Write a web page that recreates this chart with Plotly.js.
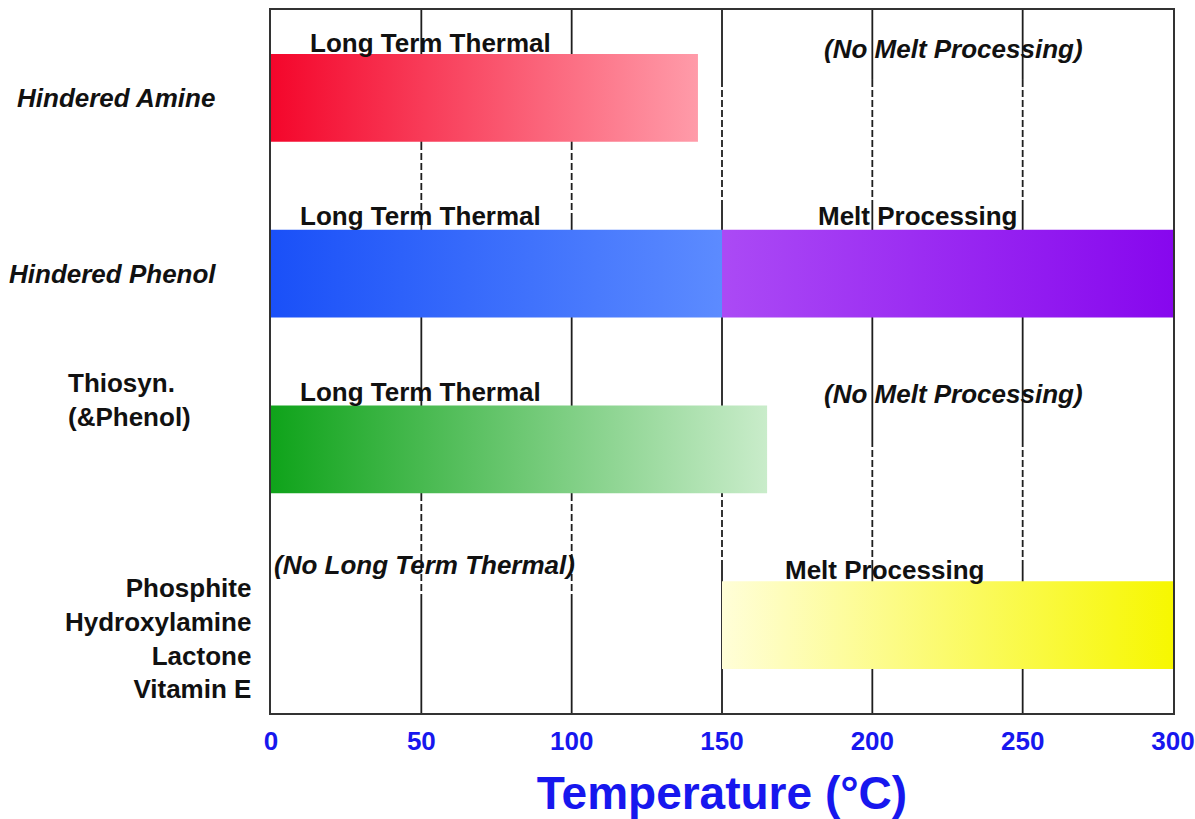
<!DOCTYPE html>
<html>
<head>
<meta charset="utf-8">
<script src="https://cdn.plot.ly/plotly-3.0.1.min.js"></script>
<style>
  html, body { margin: 0; padding: 0; background: #ffffff; }
  #chart { width: 1195px; height: 819px; }
</style>
</head>
<body>
<div id="chart"></div>
<script>
// Stabilizer families, one row each (top to bottom)
const families = ['Hindered Amine', 'Hindered Phenol', 'Thiosyn. (&Phenol)', 'Phosphite / Hydroxylamine / Lactone / Vitamin E'];

// Long term thermal range, °C (null = not applicable)
const thermalStart = [0, 0, 0, null];
const thermalEnd   = [142, 150, 165, null];

// Melt processing range, °C (null = not applicable)
const meltStart = [null, 150, null, 150];
const meltEnd   = [null, 300, null, 300];

// Temperature axis ticks
const tempTicks = [0, 50, 100, 150, 200, 250, 300];

// ---- styling ----
const BAR_HALF = 0.25;
const thermalGradient = [
  ['#f4062b', '#ff9ba9'],
  ['#1a50f8', '#5c8bff'],
  ['#0fa31a', '#c9ecca'],
  null
];
const meltGradient = [
  null,
  ['#ab4af5', '#8707ee'],
  null,
  ['#fffed8', '#f7f700']
];

const BLUE = '#1717ee';
const LABEL_FONT = 'Liberation Sans, Arial, sans-serif';

function rangeBar(i, x0, x1, colors) {
  return {
    type: 'scatter',
    mode: 'none',
    x: [x0, x1, x1, x0, x0],
    y: [i - BAR_HALF, i - BAR_HALF, i + BAR_HALF, i + BAR_HALF, i - BAR_HALF],
    fill: 'toself',
    fillgradient: {
      type: 'horizontal',
      colorscale: [[0, colors[0]], [1, colors[1]]]
    },
    hoverinfo: 'skip',
    showlegend: false
  };
}

const traces = [];
families.forEach((name, i) => {
  if (thermalEnd[i] !== null) traces.push(rangeBar(i, thermalStart[i], thermalEnd[i], thermalGradient[i]));
  if (meltEnd[i] !== null) traces.push(rangeBar(i, meltStart[i], meltEnd[i], meltGradient[i]));
});

// Vertical guide lines: alternating solid / dashed stretches
const gridGroups = [
  { ticks: [50, 100], segs: [[-0.5, 0.257, 'solid'], [0.257, 0.666, 'dash'], [0.666, 2.254, 'solid'], [2.254, 2.857, 'dash'], [2.857, 3.5, 'solid']] },
  { ticks: [150, 200, 250], segs: [[-0.5, -0.102, 'solid'], [-0.102, 0.581, 'dash'], [0.581, 1.947, 'solid'], [1.947, 2.658, 'dash'], [2.658, 3.5, 'solid']] }
];
const shapes = [];
gridGroups.forEach(g => {
  g.ticks.forEach(t => {
    g.segs.forEach(s => {
      shapes.push({
        type: 'line', layer: 'below', xref: 'x', yref: 'y',
        x0: t, x1: t, y0: s[0], y1: s[1],
        line: { color: '#1e1e1e', width: 1.8, dash: s[2] === 'dash' ? '7px,3px' : 'solid' }
      });
    });
  });
});

// Row names on the left
const rowLabels = [
  { text: '<i>Hindered Amine</i>', y: 0, xshift: -54, xanchor: 'right', align: 'right' },
  { text: '<i>Hindered Phenol</i>', y: 1, xshift: -53, xanchor: 'right', align: 'right' },
  { text: 'Thiosyn.<br>(&Phenol)', y: 1.72, xshift: -205, xanchor: 'left', align: 'left' },
  { text: 'Phosphite<br>Hydroxylamine<br>Lactone<br>Vitamin E', y: 3.076, xshift: -18, xanchor: 'right', align: 'right' }
];

// Range captions placed above each row
const captions = [
  { text: 'Long Term Thermal', x: 53, y: -0.312 },
  { text: '<i>(No Melt Processing)</i>', x: 227, y: -0.278 },
  { text: 'Long Term Thermal', x: 49.6, y: 0.672 },
  { text: 'Melt Processing', x: 215, y: 0.672 },
  { text: 'Long Term Thermal', x: 49.6, y: 1.673 },
  { text: '<i>(No Melt Processing)</i>', x: 227, y: 1.685 },
  { text: '<i>(No Long Term Thermal)</i>', x: 51, y: 2.658 },
  { text: 'Melt Processing', x: 204, y: 2.686 }
];

const annotations = [];
rowLabels.forEach(r => annotations.push({
  xref: 'paper', yref: 'y', x: 0, y: r.y, xshift: r.xshift,
  xanchor: r.xanchor, yanchor: 'middle', align: r.align,
  text: r.text, showarrow: false,
  font: { family: LABEL_FONT, size: 26, color: '#111111', weight: 'bold' }
}));
captions.forEach(c => annotations.push({
  xref: 'x', yref: 'y', x: c.x, y: c.y,
  xanchor: 'center', yanchor: 'middle',
  text: c.text, showarrow: false,
  font: { family: LABEL_FONT, size: 26, color: '#111111', weight: 'bold' }
}));

const layout = {
  width: 1195,
  height: 819,
  margin: { l: 271, r: 22, t: 10, b: 106 },
  paper_bgcolor: '#ffffff',
  plot_bgcolor: '#ffffff',
  showlegend: false,
  xaxis: {
    range: [0, 300],
    tickvals: tempTicks,
    ticktext: tempTicks.map(String),
    ticks: '',
    showgrid: false,
    zeroline: false,
    showline: true,
    mirror: true,
    linecolor: '#333333',
    linewidth: 2,
    tickfont: { family: LABEL_FONT, size: 26, color: BLUE, weight: 'bold' },
    ticklabelstandoff: 4,
    ticklabeloverflow: 'allow',
    title: {
      text: 'Temperature (°C)',
      font: { family: LABEL_FONT, size: 46, color: BLUE, weight: 'bold' },
      standoff: 22
    },
    fixedrange: true
  },
  yaxis: {
    range: [3.5, -0.5],
    showticklabels: false,
    ticks: '',
    showgrid: false,
    zeroline: false,
    showline: true,
    mirror: true,
    linecolor: '#333333',
    linewidth: 2,
    fixedrange: true
  },
  shapes: shapes,
  annotations: annotations
};

Plotly.newPlot('chart', traces, layout, { displayModeBar: false, staticPlot: true });
</script>
</body>
</html>
